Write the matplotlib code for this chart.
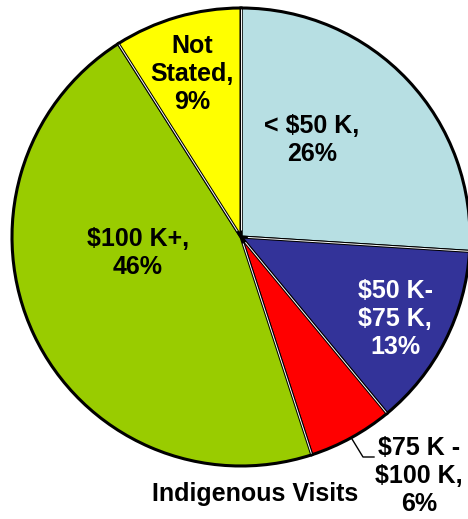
import numpy as np
import matplotlib
matplotlib.use("Agg")
import matplotlib.pyplot as plt

categories = ["< $50 K", "$50 K-\n$75 K", "$75 K -\n$100 K", "$100 K+", "Not\nStated"]
values = [26, 13, 6, 46, 9]
colors = ["#B7DFE3", "#333399", "#FF0000", "#99CC00", "#FFFF00"]
text_colors = ["black", "white", "black", "black", "black"]
title = "Indigenous Visits"

plt.rcParams['font.family'] = ['Liberation Sans', 'DejaVu Sans']

W, H = 468, 519
fig = plt.figure(figsize=(W / 100, H / 100), dpi=100)
cx, cy, r = 241, 237, 229
ax = fig.add_axes([(cx - r) / W, (H - cy - r) / H, 2 * r / W, 2 * r / H])
ax.axis("off")

wedges, _ = ax.pie(values, colors=colors, startangle=90, counterclock=False, radius=1,
                   wedgeprops=dict(edgecolor="black", linewidth=2.2))
for w in wedges:
    w.set_clip_on(False)
ax.set_aspect("auto")
ax.set_xlim(-1, 1)
ax.set_ylim(-1, 1)

# white separating lines along the radial boundaries
cum = np.cumsum([0] + values)
for c in cum[:-1]:
    ang = np.deg2rad(90 - 360 * c / sum(values))
    ax.plot([0.03 * np.cos(ang), 0.995 * np.cos(ang)], [0.03 * np.sin(ang), 0.995 * np.sin(ang)],
            color="white", lw=0.7, solid_capstyle="butt", clip_on=False)

def to_data(px, py):
    return (px - cx) / r, (cy - py) / r

label_px = [(312, 140), (395, 319), (419, 476), (138, 253), (192, 74)]
for cat, v, pos, tc in zip(categories, values, label_px, text_colors):
    x, y = to_data(*pos)
    ax.text(x, y, f"{cat},\n{v}%", ha="center", va="center", fontsize=18,
            fontweight="bold", color=tc, linespacing=1.22, clip_on=False)

# leader line for the small slice
lead = [to_data(352, 439), to_data(363, 457), to_data(374, 457)]
ax.plot([p[0] for p in lead], [p[1] for p in lead], color="black", lw=1, clip_on=False)

fig.text(255 / W, 1 - 494 / H, title, ha="center", va="center", fontsize=18, fontweight="bold")

fig.savefig("out.png", dpi=100)
